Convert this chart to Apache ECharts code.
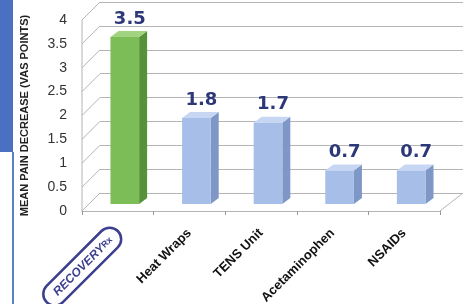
<!doctype html>
<html>
<head>
<meta charset="utf-8" />
<title></title>
<script src="https://cdn.jsdelivr.net/npm/echarts@6/dist/echarts.min.js"></script>
<style>
  html, body { margin: 0; padding: 0; background: #fff; }
  #main { width: 472px; height: 304px; }
</style>
</head>
<body>
<div id="main"></div>
<script>
// data
var categories = ['RECOVERYRx', 'Heat Wraps', 'TENS Unit', 'Acetaminophen', 'NSAIDs'];
var values = [3.5, 1.8, 1.7, 0.7, 0.7];
var yTicks = [0, 0.5, 1, 1.5, 2, 2.5, 3, 3.5, 4];
var yName = 'MEAN PAIN DECREASE (VAS POINTS)';

var myChart = echarts.init(document.getElementById('main'));

var DX = 8, DY = 6;         // bar depth
var WX = 18, WY = 18;       // wall depth
var green = { front: '#7cbd57', side: '#55923a', top: '#a2d47f' };
var blue = { front: '#a7bee8', side: '#7f97c7', top: '#c7d6f2' };

function renderBar(params, api) {
  var idx = api.value(0), v = api.value(1);
  var c = api.coord([idx, v]);
  var o = api.coord([idx, 0]);
  var bw = api.size([1, 0])[0] * 0.4;
  var x = c[0] - bw / 2;
  var col = idx === 0 ? green : blue;
  return {
    type: 'group',
    children: [
      { type: 'polygon', shape: { points: [[x + bw, c[1]], [x + bw + DX, c[1] - DY], [x + bw + DX, o[1] - DY], [x + bw, o[1]]] }, style: { fill: col.side } },
      { type: 'polygon', shape: { points: [[x, c[1]], [x + DX, c[1] - DY], [x + bw + DX, c[1] - DY], [x + bw, c[1]]] }, style: { fill: col.top } },
      { type: 'rect', shape: { x: x, y: c[1], width: bw, height: o[1] - c[1] }, style: { fill: col.front } },
      { type: 'text', x: c[0] + DX / 2 + 1, y: c[1] - DY - 3, style: { text: String(v), fill: '#2c3878', font: 'bold 18px "DejaVu Sans"', align: 'center', verticalAlign: 'bottom' } }
    ]
  };
}

function renderWall(params, api) {
  var v = api.value(1);
  var y = api.coord([0, v])[1];
  var cs = params.coordSys;
  var ls = { stroke: '#b4b4b4', lineWidth: 1 };
  var kids = [{ type: 'line', shape: { x1: cs.x, y1: y, x2: cs.x + WX, y2: y - WY }, style: ls }];
  if (v === 0) {
    kids.push({ type: 'line', shape: { x1: cs.x, y1: y, x2: cs.x, y2: cs.y }, style: ls });
    kids.push({ type: 'line', shape: { x1: cs.x + cs.width, y1: y, x2: cs.x + cs.width + WX + 5, y2: y - WY }, style: ls });
  }
  return { type: 'group', children: kids };
}

var option = {
  backgroundColor: '#fff',
  animation: false,
  graphic: [
    { type: 'rect', left: 0, top: 0, shape: { width: 13, height: 152 }, style: { fill: '#4a70c2' } },
    { type: 'rect', left: 12, top: 152, shape: { width: 2, height: 152 }, style: { fill: '#5b80cc' } }
  ],
  grid: [
    { left: 89, right: 25, top: 13, height: 191, outerBoundsMode: 'none' },
    { left: 82, right: 32, top: 20, height: 191, outerBoundsMode: 'none' },
    { left: 100, right: 9, top: 2, height: 191, outerBoundsMode: 'none' }
  ],
  xAxis: [
    { gridIndex: 0, type: 'category', data: categories, show: false },
    {
      gridIndex: 1, type: 'category',
      data: categories.map(function (c, i) {
        if (i === 0) {
          return {
            value: c,
            textStyle: {
              borderColor: '#3b3f8e', borderWidth: 2.5, borderRadius: 22, padding: [6, 10, 5, 12]
            }
          };
        }
        return c;
      }),
      axisLine: { lineStyle: { color: '#b4b4b4' } },
      axisTick: { show: true, length: 4, lineStyle: { color: '#999' } },
      axisLabel: {
        rotate: 45, margin: 20, color: '#111', fontWeight: 'bold', fontSize: 13, fontFamily: 'Liberation Sans', interval: 0,
        formatter: function (v, i) {
          return i === 0 ? '{a|RECOVERY}{b|Rx}' : v;
        },
        rich: {
          a: { color: '#3b3f8e', fontSize: 12, fontStyle: 'italic', fontFamily: 'Liberation Sans' },
          b: { color: '#3b3f8e', fontSize: 9, fontWeight: 'bold', fontFamily: 'Liberation Sans' }
        }
      }
    },
    { gridIndex: 2, type: 'category', data: categories, show: false }
  ],
  yAxis: [
    { gridIndex: 0, type: 'value', min: 0, max: 4, interval: 0.5, show: false },
    {
      gridIndex: 1, type: 'value', min: 0, max: 4, interval: 0.5,
      name: yName, nameLocation: 'middle', nameGap: 52,
      nameTextStyle: { color: '#222', fontWeight: 'bold', fontSize: 11, fontFamily: 'Liberation Sans' },
      axisLine: { show: false }, axisTick: { show: false }, splitLine: { show: false },
      axisLabel: { color: '#333', fontSize: 14, fontFamily: 'Liberation Sans', margin: 15 }
    },
    {
      gridIndex: 2, type: 'value', min: 0, max: 4, interval: 0.5,
      axisLine: { show: false }, axisTick: { show: false }, axisLabel: { show: false },
      splitLine: { lineStyle: { color: '#b4b4b4', width: 1 } }
    }
  ],
  series: [
    {
      type: 'custom', xAxisIndex: 1, yAxisIndex: 1, z: 1,
      renderItem: renderWall,
      data: yTicks.map(function (t) { return [0, t]; })
    },
    {
      type: 'custom', xAxisIndex: 0, yAxisIndex: 0, z: 5,
      renderItem: renderBar,
      data: values.map(function (v, i) { return [i, v]; })
    }
  ]
};

myChart.setOption(option);
</script>
</body>
</html>
